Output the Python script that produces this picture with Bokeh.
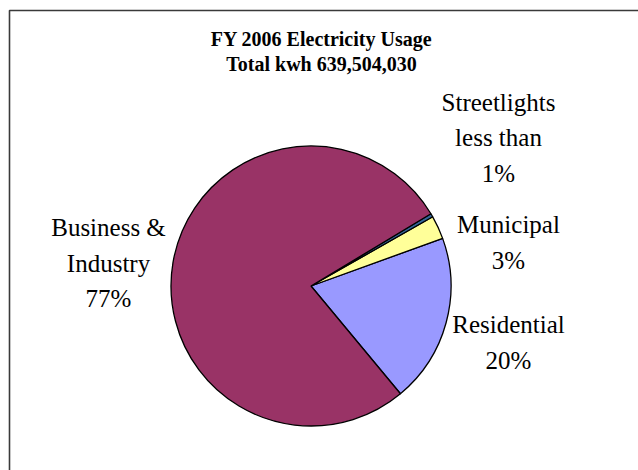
import numpy as np
from bokeh.plotting import figure
from bokeh.models import Range1d
from bokeh.core.properties import value
from bokeh.embed import file_html
from bokeh.resources import INLINE

# FY 2006 electricity usage shares (percent of total kwh)
categories = ["Residential", "Municipal", "Streetlights", "Business & Industry"]
shares = [19.5, 2.7, 0.4, 77.4]
colors = ["#9999FF", "#FFFF99", "#336699", "#993366"]

title_lines = ["FY 2006 Electricity Usage", "Total kwh 639,504,030"]

label_lines = {
    "Streetlights": ["Streetlights", "less than", "1%"],
    "Municipal": ["Municipal", "3%"],
    "Residential": ["Residential", "20%"],
    "Business & Industry": ["Business &", "Industry", "77%"],
}

W, H = 638, 470

p = figure(width=W, height=H, output_backend="svg", toolbar_location=None,
           x_range=Range1d(0, W), y_range=Range1d(0, H), min_border=0)
p.axis.visible = False
p.grid.visible = False
p.outline_line_color = None
p.background_fill_color = "white"
p.border_fill_color = "white"

def Y(px):
    return H - px

# chart frame (runs off the right and bottom edges)
p.quad(left=9, right=W + 20, top=Y(10), bottom=-20, fill_color=None,
       line_color="#3a3a3a", line_width=1.6)

# pie: slices laid out counter-clockwise starting below the right side
cx, cy, r = 310.5, Y(285.5), 140
start_deg = -50.3
frac = np.array(shares) / np.sum(shares)
ends = np.deg2rad(start_deg) + np.cumsum(frac) * 2 * np.pi
starts = np.concatenate([[np.deg2rad(start_deg)], ends[:-1]])
p.wedge(x=cx, y=cy, radius=r, start_angle=starts, end_angle=ends,
        fill_color=colors, line_color="black", line_width=1.3)

serif = value("Liberation Serif")

# title
for txt, base in zip(title_lines, [38, 63]):
    p.text(x=[321], y=[Y(base)], text=[txt], text_font=serif,
           text_font_size=value("20px"), text_font_style="bold",
           text_align="center", text_baseline="alphabetic", text_color="black")

# slice labels: (center x, first baseline) with ~35.7px line spacing
label_pos = {
    "Streetlights": (498, 101.5),
    "Municipal": (508, 224),
    "Residential": (508, 324),
    "Business & Industry": (108, 227),
}
for cat in categories:
    lx, b0 = label_pos[cat]
    for i, line in enumerate(label_lines[cat]):
        p.text(x=[lx], y=[Y(b0 + i * 35.7)], text=[line], text_font=serif,
               text_font_size=value("25px"),
               text_align="center", text_baseline="alphabetic",
               text_color="black")

open("out.html", "w").write(file_html(p, INLINE))
